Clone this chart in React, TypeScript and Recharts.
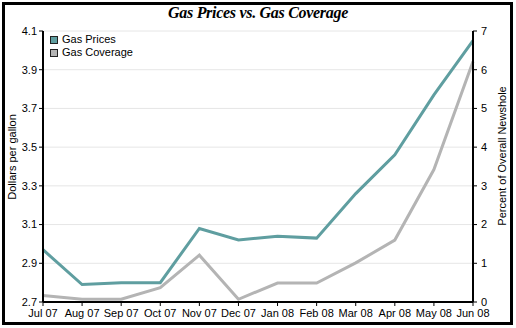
import { LineChart, Line, XAxis, YAxis, CartesianGrid } from 'recharts'

const months = ['Jul 07', 'Aug 07', 'Sep 07', 'Oct 07', 'Nov 07', 'Dec 07', 'Jan 08', 'Feb 08', 'Mar 08', 'Apr 08', 'May 08', 'Jun 08']
const gasPrices = [2.97, 2.79, 2.8, 2.8, 3.08, 3.02, 3.04, 3.03, 3.26, 3.46, 3.77, 4.05]
const gasCoverage = [0.17, 0.07, 0.07, 0.37, 1.21, 0.07, 0.49, 0.49, 1.01, 1.6, 3.42, 6.21]
const priceTicks = [2.7, 2.9, 3.1, 3.3, 3.5, 3.7, 3.9, 4.1]
const coverageTicks = [0, 1, 2, 3, 4, 5, 6, 7]

const TEAL = '#5f9ea0'
const GRAY = '#b4b4b4'
const FONT = '"Liberation Sans", Arial, sans-serif'

const data = months.map((m, i) => ({ month: m, price: gasPrices[i], coverage: gasCoverage[i] }))

const legendItems = [
  { label: 'Gas Prices', color: TEAL },
  { label: 'Gas Coverage', color: GRAY },
]

export default function App() {
  return (
    <div style={{ position: 'absolute', left: 0, top: 0, width: 516, height: 328, background: '#fff' }}>
      <LineChart width={516} height={328} data={data} margin={{ top: 31, right: 0, bottom: 0, left: 0 }}>
        <CartesianGrid vertical={false} stroke="#e6e6e6" yAxisId="left" />
        <XAxis
          dataKey="month"
          interval={0}
          height={26}
          tick={{ fontFamily: FONT, fontSize: 11, fill: '#000' }}
          tickLine={{ stroke: '#000' }}
          axisLine={{ stroke: '#000', strokeWidth: 2 }}
          tickSize={4}
          tickMargin={3}
        />
        <YAxis
          yAxisId="left"
          orientation="left"
          width={43}
          domain={[2.7, 4.1]}
          ticks={priceTicks}
          tickFormatter={(v: number) => v.toFixed(1)}
          tick={{ fontFamily: FONT, fontSize: 11, fill: '#000' }}
          tickLine={{ stroke: '#000' }}
          axisLine={{ stroke: '#000', strokeWidth: 2 }}
          tickSize={4}
          tickMargin={2}
        />
        <YAxis
          yAxisId="right"
          orientation="right"
          width={43}
          domain={[0, 7]}
          ticks={coverageTicks}
          tick={{ fontFamily: FONT, fontSize: 11, fill: '#000' }}
          tickLine={{ stroke: '#000' }}
          axisLine={{ stroke: '#000', strokeWidth: 2 }}
          tickSize={4}
          tickMargin={4}
        />
        <Line
          yAxisId="right"
          dataKey="coverage"
          stroke={GRAY}
          strokeWidth={3}
          dot={false}
          type="linear"
          isAnimationActive={false}
        />
        <Line
          yAxisId="left"
          dataKey="price"
          stroke={TEAL}
          strokeWidth={3}
          dot={false}
          type="linear"
          isAnimationActive={false}
        />
      </LineChart>

      {/* axis titles */}
      <svg
        width={516}
        height={328}
        style={{ position: 'absolute', left: 0, top: 0, pointerEvents: 'none' }}
      >
        <text
          x={12}
          y={157}
          transform="rotate(-90 12 157)"
          textAnchor="middle"
          dominantBaseline="central"
          fontFamily={FONT}
          fontSize={11}
          fill="#000"
        >
          Dollars per gallon
        </text>
        <text
          x={502}
          y={156}
          transform="rotate(-90 502 156)"
          textAnchor="middle"
          dominantBaseline="central"
          fontFamily={FONT}
          fontSize={11}
          fill="#000"
        >
          Percent of Overall Newshole
        </text>
      </svg>

      <div
        style={{
          position: 'absolute',
          left: 0,
          top: 4,
          width: 516,
          textAlign: 'center',
          fontFamily: '"Liberation Serif", "Times New Roman", serif',
          fontStyle: 'italic',
          fontWeight: 'bold',
          fontSize: 16,
          letterSpacing: -0.3,
        }}
      >
        Gas Prices vs. Gas Coverage
      </div>

      <div style={{ position: 'absolute', left: 50, top: 33, fontFamily: FONT, fontSize: 11, lineHeight: '13px', color: '#000' }}>
        {legendItems.map((it) => (
          <div key={it.label} style={{ display: 'flex', alignItems: 'center', height: 13 }}>
            <span
              style={{
                width: 6,
                height: 6,
                background: it.color,
                border: '1px solid #222',
                marginRight: 4,
                display: 'inline-block',
              }}
            />
            {it.label}
          </div>
        ))}
      </div>

      <div
        style={{
          position: 'absolute',
          left: 2,
          top: 2,
          width: 511,
          height: 323,
          border: '3px solid #000',
          boxSizing: 'border-box',
          pointerEvents: 'none',
        }}
      />
    </div>
  )
}
